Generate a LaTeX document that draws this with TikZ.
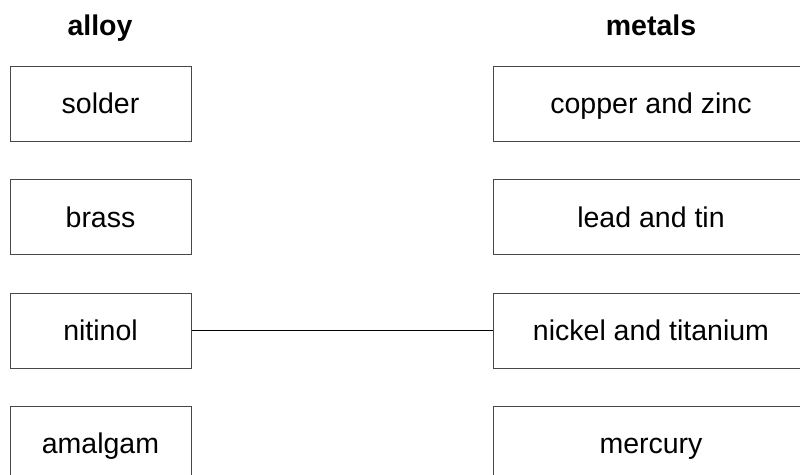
\documentclass[tikz,border=0pt]{standalone}
\usepackage{fontspec}
\setmainfont{Liberation Sans}
\begin{document}
\begin{tikzpicture}[x=1pt,y=-1pt,
  heading/.style={font=\fontsize{28.5}{34}\selectfont\bfseries, anchor=base, inner sep=0pt},
  itembox/.style={draw=black!72, line width=1pt, rectangle, minimum height=75pt,
    inner sep=0pt, text height=20pt, text depth=0pt,
    font=\fontsize{28.5}{34}\selectfont},
  alloybox/.style={itembox, minimum width=181pt},
  metalbox/.style={itembox, minimum width=316pt},
  link/.style={draw=black, line width=1pt}]
\useasboundingbox (0,0) rectangle (800,474);
\fill[white] (0,0) rectangle (800,474);

% column headings
\node[heading] (hAlloy) at (100,35) {alloy};
\node[heading] (hMetals) at (651,35) {metals};

% alloys
\node[alloybox] (solder)  at (100.5,103.5) {solder};
\node[alloybox] (brass)   at (100.5,217)   {brass};
\node[alloybox] (nitinol) at (100.5,330.5) {nitinol};
\node[alloybox] (amalgam) at (100.5,443.5) {amalgam};

% metals
\node[metalbox] (cuzn)   at (651,103.5) {copper and zinc};
\node[metalbox] (pbsn)   at (651,217)   {lead and tin};
\node[metalbox] (niti)   at (651,330.5) {nickel and titanium};
\node[metalbox] (hg)     at (651,443.5) {mercury};

% worked example
\draw[link] (nitinol.east) -- (niti.west);
\end{tikzpicture}
\end{document}
